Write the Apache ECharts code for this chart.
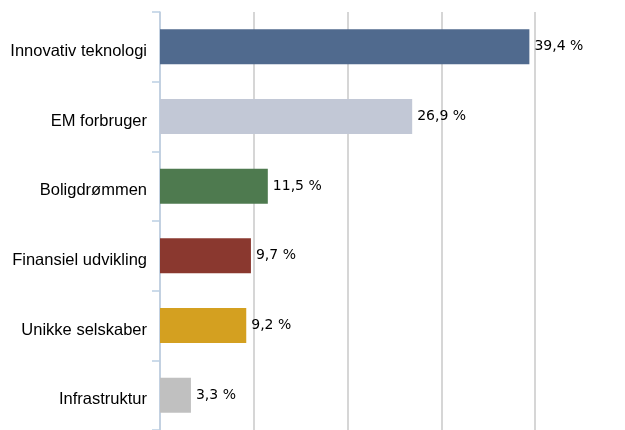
<!DOCTYPE html>
<html>
<head>
<meta charset="utf-8">
<script src="https://cdn.jsdelivr.net/npm/echarts@6/dist/echarts.min.js"></script>
<style>
  html, body { margin: 0; padding: 0; background: #fff; }
  #chart { width: 625px; height: 430px; }
</style>
</head>
<body>
<div id="chart"></div>
<script>
const categories = ['Innovativ teknologi', 'EM forbruger', 'Boligdrømmen', 'Finansiel udvikling', 'Unikke selskaber', 'Infrastruktur'];
const values = [39.4, 26.9, 11.5, 9.7, 9.2, 3.3];
const barColors = ['#506a8e', '#c2c8d6', '#4e7a4f', '#8a382f', '#d4a020', '#c0c0c0'];

const chart = echarts.init(document.getElementById('chart'));

// tallene vises med komma som decimaltegn
const fmt = v => v.toFixed(1).replace('.', ',') + ' %';

const option = {
    animation: false,
    grid: {
        left: 160,
        right: 90,
        top: 12,
        bottom: -5
    },
    xAxis: {
        type: 'value',
        min: 0,
        max: 40,
        interval: 10,
        axisLabel: { show: false },
        axisLine: { show: false },
        axisTick: { show: false },
        splitLine: {
            show: true,
            lineStyle: { color: '#c8c8c8', width: 1.5 }
        }
    },
    yAxis: {
        type: 'category',
        inverse: true,
        data: categories,
        axisLine: {
            show: true,
            lineStyle: { color: '#bccfe4', width: 1.5 }
        },
        axisTick: {
            show: true,
            length: 8,
            lineStyle: { color: '#bccfe4', width: 1.5 }
        },
        axisLabel: {
            margin: 13,
            formatter: v => '{c|' + v + '}',
            rich: {
                c: {
                    color: '#000',
                    fontSize: 16.5,
                    fontFamily: 'Liberation Sans, Arial, sans-serif',
                    padding: [9, 0, 0, 0]
                }
            }
        }
    },
    series: [
        {
            type: 'bar',
            barWidth: 35,
            data: values.map((v, i) => ({
                value: v,
                itemStyle: { color: barColors[i] }
            })),
            label: {
                show: true,
                position: 'right',
                distance: 5,
                color: '#000',
                fontSize: 14,
                fontFamily: 'DejaVu Sans, Verdana, sans-serif',
                formatter: p => fmt(p.value)
            }
        }
    ]
};

chart.setOption(option);
</script>
</body>
</html>
